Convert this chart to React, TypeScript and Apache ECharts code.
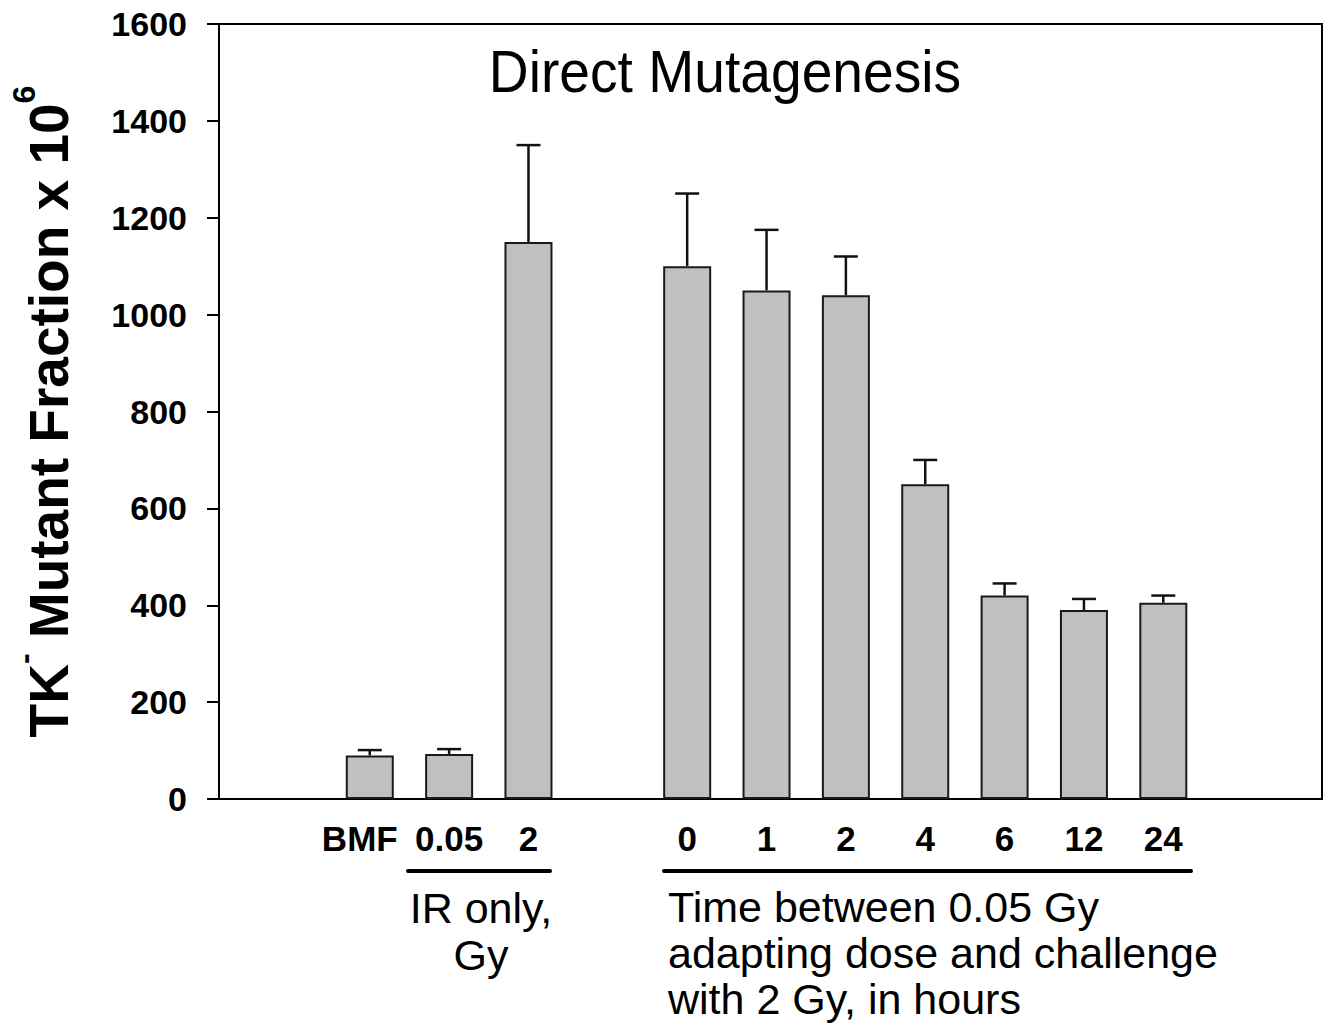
import React, { useEffect, useRef } from "react";
import * as echarts from "echarts";

const categories = ["BMF", "0.05", "2", "0", "1", "2", "4", "6", "12", "24"];
const positions = [0, 1, 2, 4, 5, 6, 7, 8, 9, 10];
const means = [90, 93, 1150, 1100, 1050, 1040, 650, 420, 390, 405];
const upper = [101, 103, 1350, 1250, 1175, 1120, 700, 445, 413, 420];
const yTicks = { min: 0, max: 1600, interval: 200 };

const FONT = "'Liberation Sans', Arial, Helvetica, sans-serif";

export default function App() {
  const ref = useRef<HTMLDivElement>(null);
  useEffect(() => {
    if (!ref.current) return;
    const chart = echarts.init(ref.current, undefined, { renderer: "svg" });
    const barData = positions.map((p, i) => {
      const item: any = { value: [p, means[i]] };
      if (i === 0) item.label = { offset: [-10, 0] };
      return item;
    });
    const errData = positions.map((p, i) => [p, means[i], upper[i]]);
    chart.setOption({
      animation: false,
      backgroundColor: "#fff",
      textStyle: { fontFamily: FONT },
      grid: {
        left: 217,
        right: 10,
        top: 24,
        bottom: 228,
        show: true,
        borderColor: "#000",
        borderWidth: 2,
        backgroundColor: "transparent",
      },
      xAxis: {
        type: "value",
        min: -1.9,
        max: 12,
        axisLine: { show: true, onZero: false, lineStyle: { color: "#000", width: 2 } },
        axisTick: { show: false },
        axisLabel: { show: false },
        splitLine: { show: false },
      },
      yAxis: {
        type: "value",
        min: yTicks.min,
        max: yTicks.max,
        interval: yTicks.interval,
        axisLine: { show: true, onZero: false, lineStyle: { color: "#000", width: 2 } },
        axisTick: { show: true, inside: false, length: 12, lineStyle: { color: "#000", width: 2 } },
        axisLabel: {
          margin: 32,
          fontSize: 34,
          fontWeight: "bold",
          color: "#000",
          fontFamily: FONT,
          formatter: (v: number) => String(v),
        },
        splitLine: { show: false },
        name: "{a|TK}{s|-}{a| Mutant Fraction x 10}{s|6}",
        nameLocation: "middle",
        nameGap: 143,
        nameTextStyle: {
          fontFamily: FONT,
          rich: {
            a: {
              fontSize: 55,
              fontWeight: "bold",
              color: "#000",
              lineHeight: 55,
              verticalAlign: "bottom",
              fontFamily: FONT,
            },
            s: {
              fontSize: 32,
              fontWeight: "bold",
              color: "#000",
              lineHeight: 104,
              fontFamily: FONT,
            },
          },
        },
      },
      graphic: [
        {
          type: "text",
          x: 725,
          y: 71,
          scaleX: 0.92,
          style: {
            text: "Direct Mutagenesis",
            fontSize: 60,
            fontFamily: FONT,
            fill: "#000",
            textAlign: "center",
            textVerticalAlign: "middle",
          },
        },
        {
          type: "line",
          shape: { x1: 408, y1: 871, x2: 550, y2: 871 },
          style: { stroke: "#000", lineWidth: 4, lineCap: "round" },
        },
        {
          type: "line",
          shape: { x1: 664, y1: 871, x2: 1191, y2: 871 },
          style: { stroke: "#000", lineWidth: 4, lineCap: "round" },
        },
        {
          type: "text",
          x: 481,
          y: 884,
          style: {
            text: "IR only,\nGy",
            fontSize: 43,
            lineHeight: 47,
            fontFamily: FONT,
            fill: "#000",
            textAlign: "center",
            textVerticalAlign: "top",
          },
        },
        {
          type: "text",
          x: 668,
          y: 884,
          style: {
            text: "Time between 0.05 Gy\nadapting dose and challenge\nwith 2 Gy, in hours",
            fontSize: 43,
            lineHeight: 46,
            fontFamily: FONT,
            fill: "#000",
            textAlign: "left",
            textVerticalAlign: "top",
          },
        },
      ],
      series: [
        {
          type: "bar",
          data: barData,
          barWidth: 48,
          itemStyle: { color: "#c0c0c0", borderColor: "#1a1a1a", borderWidth: 2 },
          label: {
            show: true,
            position: "bottom",
            distance: 22,
            formatter: (p: any) => categories[p.dataIndex],
            fontSize: 35,
            fontWeight: "bold",
            color: "#000",
            fontFamily: FONT,
          },
          z: 3,
        },
        {
          type: "custom",
          data: errData,
          encode: { x: 0, y: [1, 2] },
          z: 2,
          renderItem: (params: any, api: any) => {
            const x = api.value(0);
            const lo = api.value(1);
            const hi = api.value(2);
            const p1 = api.coord([x, lo]);
            const p2 = api.coord([x, hi]);
            const hw = 12;
            return {
              type: "group",
              children: [
                {
                  type: "line",
                  shape: { x1: p1[0], y1: p1[1], x2: p2[0], y2: p2[1] },
                  style: { stroke: "#111", lineWidth: 2.5 },
                },
                {
                  type: "line",
                  shape: { x1: p2[0] - hw, y1: p2[1], x2: p2[0] + hw, y2: p2[1] },
                  style: { stroke: "#111", lineWidth: 2.5 },
                },
              ],
            };
          },
        },
      ],
    });
    return () => chart.dispose();
  }, []);
  return (
    <div
      ref={ref}
      style={{ position: "absolute", left: 0, top: 0, width: 1332, height: 1027 }}
    />
  );
}
